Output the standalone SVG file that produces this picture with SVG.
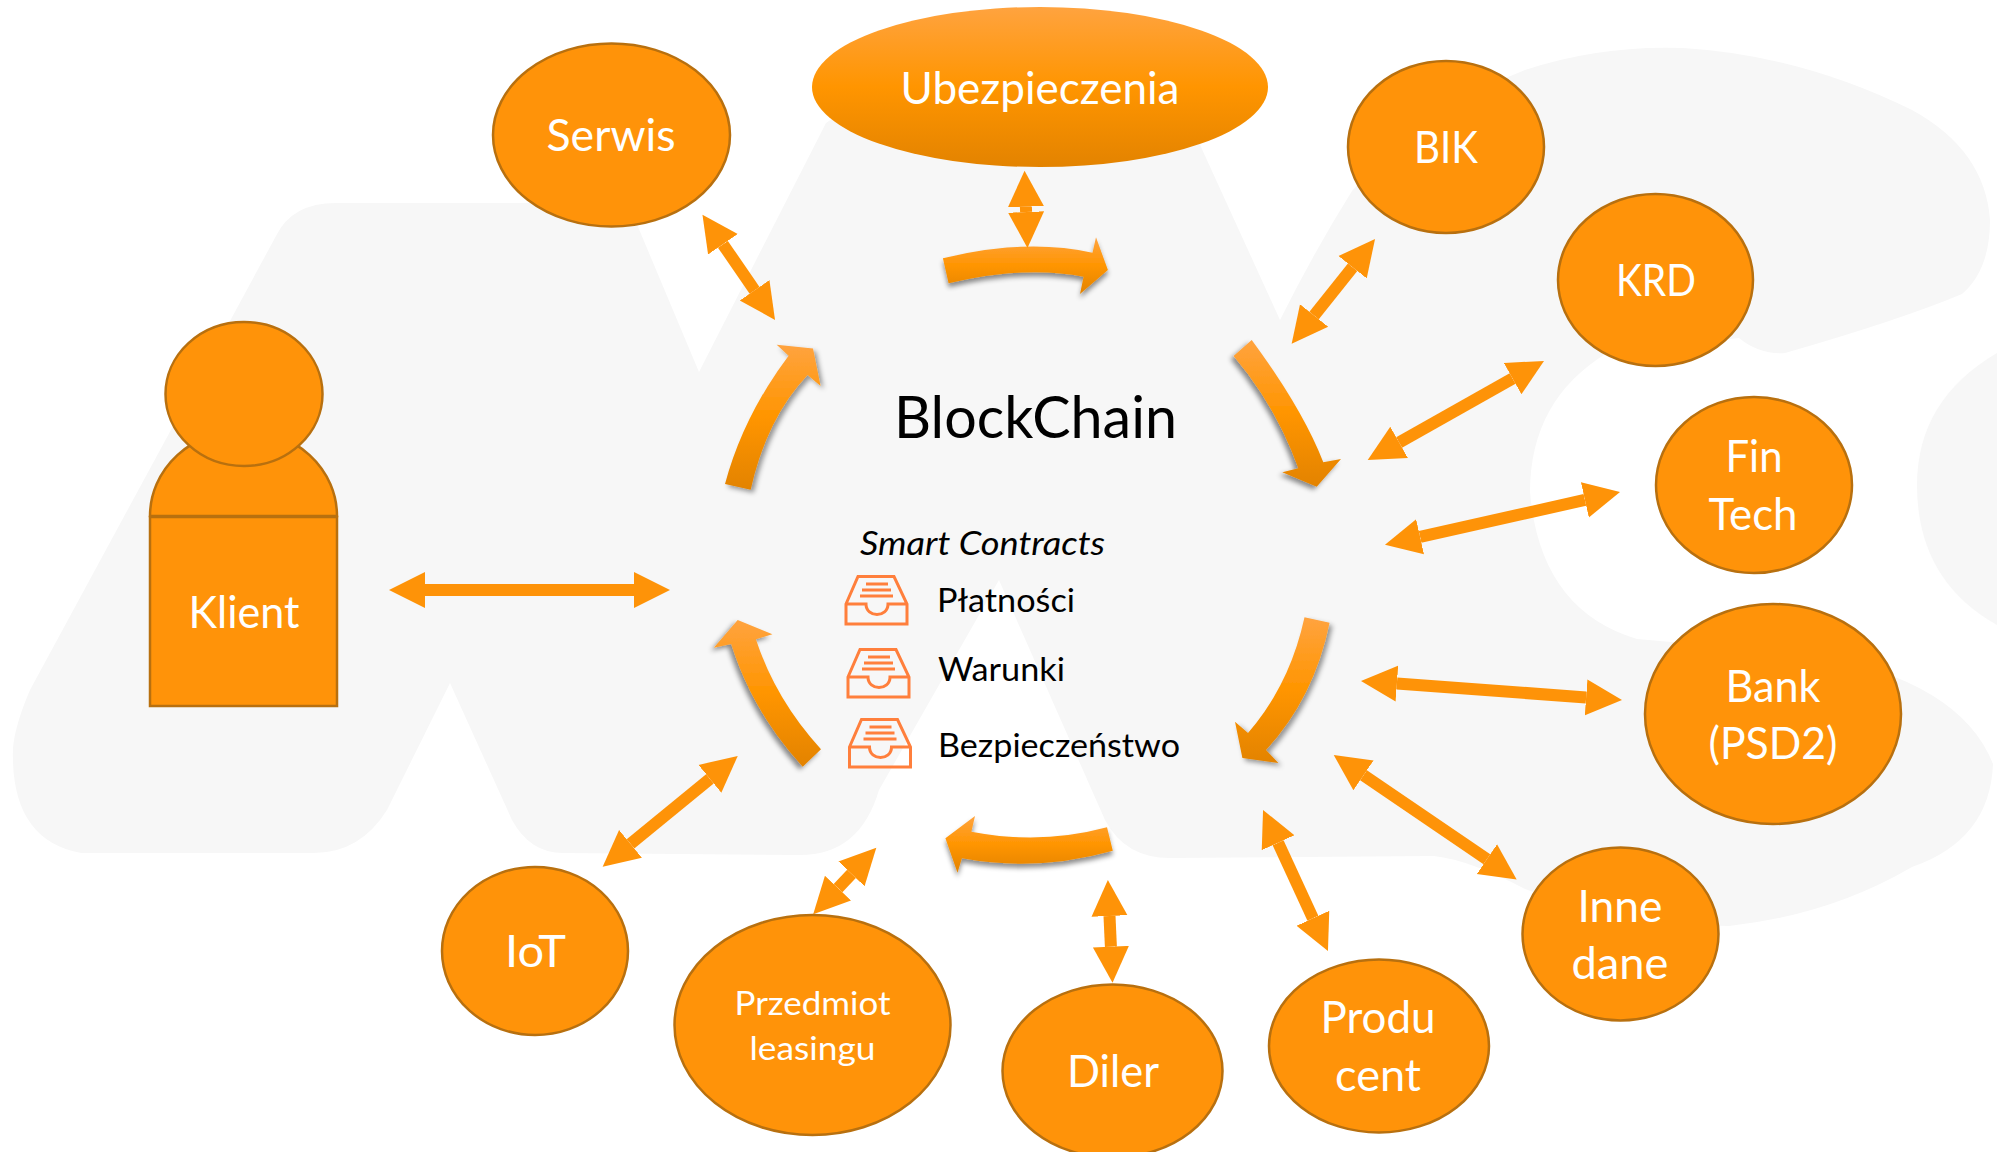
<svg xmlns="http://www.w3.org/2000/svg" width="1997" height="1152" viewBox="0 0 1997 1152">
<style>
.n{fill:#FF9309;stroke:#B8700F;stroke-width:2.5}
.w{fill:#fff;font-family:Lato,"Liberation Sans",sans-serif;font-size:44px;text-anchor:middle}
.s{font-size:33px}
.k{fill:#000;font-family:Lato,"Liberation Sans",sans-serif;font-size:33px}
.c{stroke:#FE9308;stroke-width:12;fill:none;marker-start:url(#h);marker-end:url(#h)}
.b{fill:url(#g)}
.i{fill:none;stroke:#FF7F3C;stroke-width:3}
</style>
<defs>
<linearGradient id="g" x1="0" y1="0" x2="0" y2="1">
<stop offset="0" stop-color="#FFA33F"/><stop offset=".5" stop-color="#FF9500"/><stop offset="1" stop-color="#E38300"/>
</linearGradient>
<marker id="h" markerUnits="userSpaceOnUse" markerWidth="37" markerHeight="38" refX="0" refY="19" orient="auto-start-reverse">
<path d="M0,1 L36,19 L0,37 Z" fill="#FE9308"/>
</marker>
<filter id="sd" x="-20%" y="-30%" width="140%" height="170%"><feDropShadow dx="0" dy="4" stdDeviation="2.5" flood-color="#000" flood-opacity=".45"/></filter>
<filter id="sl" x="-30%" y="-20%" width="160%" height="140%"><feDropShadow dx="-3" dy="3" stdDeviation="2.5" flood-color="#000" flood-opacity=".45"/></filter>
<filter id="sr" x="-30%" y="-20%" width="160%" height="140%"><feDropShadow dx="3" dy="3" stdDeviation="2.5" flood-color="#000" flood-opacity=".4"/></filter>
<g id="tray" class="i">
<path d="M13,1.5 H49 L62,29 V49 H1 V29 Z M1,29 H21 C21,43 43,43 43,29 H62 M21,9 H43 M17,15 H46 M15,21 H48"/>
</g>
</defs>
<rect width="1997" height="1152" fill="#fff"/>
<g id="background" fill="#F7F7F7">
<path d="M336,203 L628,203 L699,372 L826,123 L860,100 L1190,110 L1201,147 L1280,320 Q1315,250 1352,191 Q1420,110 1525,70 Q1600,45 1683,48 Q1800,55 1912,110 Q1985,150 1990,220 Q1990,270 1962,294 Q1900,320 1785,353 Q1760,355 1739,338 L1607,353 Q1530,400 1530,492 Q1540,610 1637,639 L1810,654 Q1960,680 1993,764 Q1990,840 1912,867 Q1830,915 1729,926 Q1620,925 1525,889 Q1470,860 1434,856 L1170,858 Q1125,858 1105,820 L999,580 L879,790 Q860,855 800,855 L563,853 Q530,853 512,820 L450,683 L387,810 Q360,853 314,853 L81,853 Q10,840 13,748 Q15,725 30,690 L276,236 Q292,203 336,203 Z"/>
<path d="M1997,353 Q1917,400 1917,485 Q1917,580 1997,625 Z"/>
</g>
<g id="connectors">
<path class="b" filter="url(#sd)" d="M942.9,258.3 Q1026,238 1092.5,252.7 L1096,237.3 L1107.9,270 L1080,294 L1083.6,276.7 Q1026,265 948.6,283.3 Z"/>
<path class="b" filter="url(#sl)" d="M1251.7,340 Q1302.5,408.9 1323.3,462.3 L1341,459 L1316.7,486.7 L1282.3,472.3 L1298.3,468.3 Q1276,405.9 1233.6,356 Z"/>
<path class="b" filter="url(#sr)" d="M1304.5,617.3 Q1289.8,684.9 1248,733 L1235,721.7 L1242.4,758 L1278.4,763 L1266,750 Q1314.2,697.7 1329.6,622.7 Z"/>
<path class="b" filter="url(#sd)" d="M1107,827.3 Q1040.8,845.1 971.4,831.7 L975,816 L945.4,838.3 L957.5,872.7 L961.9,858.3 Q1036.6,872.1 1112.8,850.7 Z"/>
<path class="b" filter="url(#sl)" d="M821,749.3 Q775.6,699.7 755.9,639.3 L772.4,634.3 L737.7,620 L713.8,647.7 L731.2,644 Q753,712.7 802.7,766.7 Z"/>
<path class="b" filter="url(#sr)" d="M725,484 Q743.2,416.2 788.6,355.7 L776.7,344.7 L813,348.6 L820.6,386 L807.6,375 Q766.9,417.7 750.7,489.7 Z"/>
<line class="c" x1="425" y1="590" x2="634" y2="590"/>
<line class="c" x1="722.9" y1="244.3" x2="754.6" y2="290.3"/>
<line class="c" x1="1025.9" y1="206.7" x2="1026.1" y2="212"/>
<line class="c" x1="1352.6" y1="267.2" x2="1314.1" y2="315.5"/>
<line class="c" x1="1512.6" y1="378.6" x2="1399.1" y2="442.4"/>
<line class="c" x1="1584.9" y1="499.9" x2="1420.1" y2="536.8"/>
<line class="c" x1="1586.1" y1="697.4" x2="1396.9" y2="683.6"/>
<line class="c" x1="1486.9" y1="859.2" x2="1363.5" y2="775.3"/>
<line class="c" x1="1312.9" y1="918.3" x2="1278.1" y2="842.7"/>
<line class="c" x1="1109.5" y1="916" x2="1110.9" y2="946.7"/>
<line class="c" x1="851.5" y1="873.9" x2="838" y2="888.1"/>
<line class="c" x1="709.9" y1="778.8" x2="630.5" y2="843.9"/>
</g>
<g id="klient">
<path class="n" d="M150,516 A93.5,86 0 0 1 337,516 Z"/>
<rect class="n" x="150" y="517" width="187" height="189"/>
<ellipse class="n" cx="244" cy="394" rx="78.5" ry="72"/>
<text class="w" x="244" y="628" textLength="111" lengthAdjust="spacingAndGlyphs">Klient</text>
</g>
<g id="serwis"><ellipse class="n" cx="611.5" cy="135" rx="118.5" ry="91.5"/><text class="w" x="611" y="151" textLength="129" lengthAdjust="spacingAndGlyphs">Serwis</text></g>
<g id="ubezpieczenia"><ellipse cx="1040" cy="87" rx="228" ry="80" fill="url(#g)"/><text class="w" x="1040" y="104" textLength="279" lengthAdjust="spacingAndGlyphs">Ubezpieczenia</text></g>
<g id="bik"><ellipse class="n" cx="1446" cy="147" rx="98" ry="86"/><text class="w" x="1446" y="163" textLength="64" lengthAdjust="spacingAndGlyphs">BIK</text></g>
<g id="krd"><ellipse class="n" cx="1655.5" cy="280" rx="97.5" ry="86"/><text class="w" x="1656" y="296" textLength="80" lengthAdjust="spacingAndGlyphs">KRD</text></g>
<g id="fintech"><ellipse class="n" cx="1754" cy="485" rx="98" ry="88"/><text class="w" x="1754" y="472" textLength="57" lengthAdjust="spacingAndGlyphs">Fin</text><text class="w" x="1753" y="530" textLength="89" lengthAdjust="spacingAndGlyphs">Tech</text></g>
<g id="bank"><ellipse class="n" cx="1773" cy="714" rx="128" ry="110"/><text class="w" x="1773" y="702" textLength="95" lengthAdjust="spacingAndGlyphs">Bank</text><text class="w" x="1773" y="759" textLength="129" lengthAdjust="spacingAndGlyphs">(PSD2)</text></g>
<g id="inne-dane"><ellipse class="n" cx="1620.5" cy="934" rx="98" ry="86.5"/><text class="w" x="1620" y="922" textLength="85" lengthAdjust="spacingAndGlyphs">Inne</text><text class="w" x="1620" y="979" textLength="97" lengthAdjust="spacingAndGlyphs">dane</text></g>
<g id="producent"><ellipse class="n" cx="1379" cy="1046" rx="110" ry="86.5"/><text class="w" x="1378" y="1032.5" textLength="115" lengthAdjust="spacingAndGlyphs">Produ</text><text class="w" x="1378" y="1091" textLength="86" lengthAdjust="spacingAndGlyphs">cent</text></g>
<g id="diler"><ellipse class="n" cx="1112.5" cy="1071" rx="110" ry="86.5"/><text class="w" x="1113" y="1087" textLength="92" lengthAdjust="spacingAndGlyphs">Diler</text></g>
<g id="przedmiot"><ellipse class="n" cx="812.5" cy="1025" rx="138" ry="110"/><text class="w s" x="812.5" y="1015" textLength="156" lengthAdjust="spacingAndGlyphs">Przedmiot</text><text class="w s" x="812.5" y="1060" textLength="126" lengthAdjust="spacingAndGlyphs">leasingu</text></g>
<g id="iot"><ellipse class="n" cx="535" cy="951" rx="93" ry="84"/><text class="w" x="535.5" y="967" textLength="61" lengthAdjust="spacingAndGlyphs">IoT</text></g>
<g id="blockchain"><text x="894" y="438" font-family="Lato,'Liberation Sans',sans-serif" font-size="58" textLength="283" lengthAdjust="spacingAndGlyphs">BlockChain</text></g>
<g id="smart-contracts"><text class="k" x="860" y="555" font-style="italic" textLength="245" lengthAdjust="spacingAndGlyphs">Smart Contracts</text></g>
<g id="platnosci"><use href="#tray" x="845" y="575"/><text class="k" x="937" y="612" textLength="138" lengthAdjust="spacingAndGlyphs">Płatności</text></g>
<g id="warunki"><use href="#tray" x="847" y="648"/><text class="k" x="938" y="681" textLength="127" lengthAdjust="spacingAndGlyphs">Warunki</text></g>
<g id="bezpieczenstwo"><use href="#tray" x="848.5" y="718"/><text class="k" x="938" y="757" textLength="242" lengthAdjust="spacingAndGlyphs">Bezpieczeństwo</text></g>
</svg>
